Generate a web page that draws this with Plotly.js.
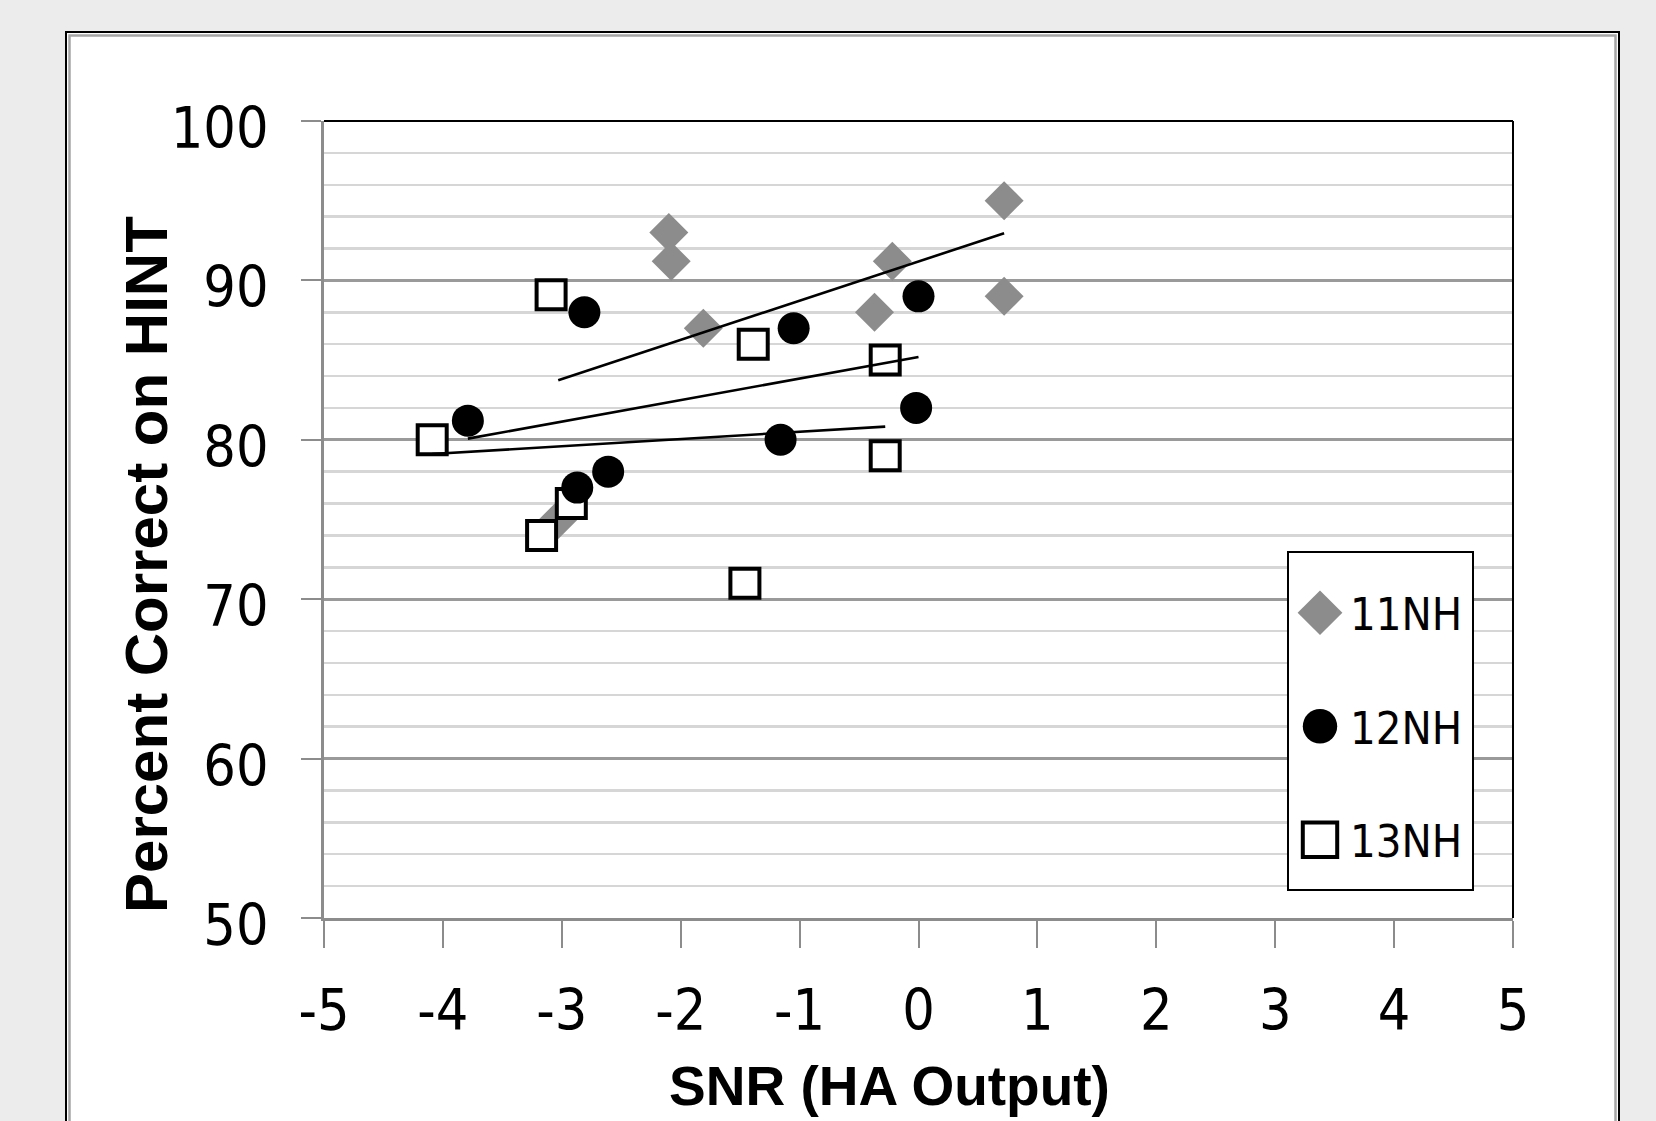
<!DOCTYPE html>
<html><head><meta charset="utf-8">
<script src="https://cdn.plot.ly/plotly-3.0.1.min.js"></script>
<style>html,body{margin:0;padding:0;background:#ececec;} #chart{width:1656px;height:1121px;}</style>
</head><body><div id="chart"></div>
<script>
// ---- data ----
const seriesNames = ['11NH', '12NH', '13NH'];
const snr11 = [-2.10, -2.08, -1.81, -0.37, -0.22, 0.72, 0.72, -3.03];
const pct11 = [93.0, 91.2, 87.0, 88.0, 91.2, 95.0, 89.0, 75.0];
const snr12 = [-3.79, -2.81, -2.87, -2.61, -1.05, -1.16, 0.00, -0.02];
const pct12 = [81.2, 88.0, 77.0, 78.0, 87.0, 80.0, 89.0, 82.0];
const snr13 = [-4.09, -3.09, -3.17, -2.92, -1.39, -1.46, -0.28, -0.28];
const pct13 = [80.0, 89.1, 74.0, 76.0, 86.0, 71.0, 85.0, 79.0];
const xTickVals = [-5, -4, -3, -2, -1, 0, 1, 2, 3, 4, 5];
const yTickVals = [50, 60, 70, 80, 90, 100];
const xTitle = 'SNR (HA Output)';
const yTitle = 'Percent Correct on HINT';

// ---- geometry ----
const W = 1656, H = 1121;
const M = {l: 324, r: 143, t: 121, b: 203};
const PW = W - M.l - M.r, PH = H - M.t - M.b;
const px = v => (v - M.l) / PW;       // pixel x -> paper
const py = v => (H - M.b - v) / PH;   // pixel y -> paper

const NARROW = '"DejaVu Sans Condensed", "Liberation Sans Narrow", "Liberation Sans", sans-serif';
const BOLD = '"Liberation Sans", Arial, sans-serif';

// least-squares trend line over each series' x-range
function trend(xs, ys) {
  const n = xs.length;
  const mx = xs.reduce((a, b) => a + b, 0) / n;
  const my = ys.reduce((a, b) => a + b, 0) / n;
  let sxy = 0, sxx = 0;
  for (let i = 0; i < n; i++) { sxy += (xs[i] - mx) * (ys[i] - my); sxx += (xs[i] - mx) ** 2; }
  const k = sxy / sxx, c = my - k * mx;
  const x0 = Math.min(...xs), x1 = Math.max(...xs);
  return {x: [x0, x1], y: [k * x0 + c, k * x1 + c]};
}

const traces = [
  {x: snr11, y: pct11, name: seriesNames[0], mode: 'markers', type: 'scatter', legendgroup: 'g1', legendrank: 1,
   marker: {symbol: 'diamond', size: 30, color: '#8c8c8c', line: {width: 0}}},
  {x: snr13, y: pct13, name: seriesNames[2], mode: 'markers', type: 'scatter', legendgroup: 'g3', legendrank: 3,
   marker: {symbol: 'square', size: 29, color: '#ffffff', line: {width: 4, color: '#000000'}}},
  {x: snr12, y: pct12, name: seriesNames[1], mode: 'markers', type: 'scatter', legendgroup: 'g2', legendrank: 2,
   marker: {symbol: 'circle', size: 32, color: '#000000', line: {width: 0}}},
];
[[snr11, pct11], [snr12, pct12], [snr13, pct13]].forEach(([xs, ys]) => {
  const t = trend(xs, ys);
  traces.push({x: t.x, y: t.y, mode: 'lines', type: 'scatter', showlegend: false, hoverinfo: 'skip',
    line: {color: '#000000', width: 2.6}});
});

const shapes = [
  // outer white frame with double border
  {type: 'rect', xref: 'paper', yref: 'paper', layer: 'below',
   x0: px(66), x1: px(1619), y0: py(1180), y1: py(32),
   fillcolor: '#ffffff', line: {color: '#000000', width: 2}},
  {type: 'rect', xref: 'paper', yref: 'paper', layer: 'below',
   x0: px(69.5), x1: px(1615.5), y0: py(1180), y1: py(35.5),
   fillcolor: 'rgba(0,0,0,0)', line: {color: '#a6a6a6', width: 2.5}},
  // plot-area top and right border
  {type: 'line', xref: 'paper', yref: 'paper', x0: 0, x1: 1, y0: 1, y1: 1, line: {color: '#000000', width: 2}},
  {type: 'line', xref: 'paper', yref: 'paper', x0: 1, x1: 1, y0: 0, y1: 1, line: {color: '#000000', width: 2}},
  // legend box
  {type: 'rect', xref: 'paper', yref: 'paper', layer: 'above',
   x0: px(1288), x1: px(1473), y0: py(890), y1: py(552),
   fillcolor: '#ffffff', line: {color: '#000000', width: 2}},
];

const annotations = [
  {text: '<b>' + yTitle + '</b>', xref: 'paper', yref: 'paper', x: px(146), y: py(565),
   xanchor: 'center', yanchor: 'middle', textangle: -90, showarrow: false,
   font: {family: BOLD, size: 60, color: '#000000'}},
  {text: '<b>' + xTitle + '</b>', xref: 'paper', yref: 'paper', x: px(889), y: py(1086),
   xanchor: 'center', yanchor: 'middle', showarrow: false,
   font: {family: BOLD, size: 55, color: '#000000'}},
];

const layout = {
  width: W, height: H,
  margin: M,
  paper_bgcolor: '#ececec',
  plot_bgcolor: '#ffffff',
  font: {family: NARROW, color: '#000000'},
  showlegend: true,
  legend: {
    x: px(1290), xanchor: 'left', y: py(577), yanchor: 'top',
    bgcolor: 'rgba(0,0,0,0)', borderwidth: 0,
    font: {family: NARROW, size: 45, color: '#000000'},
    itemwidth: 50,
    traceorder: 'grouped', tracegroupgap: 52,
  },
  xaxis: {
    range: [-5, 5], tickvals: xTickVals, ticktext: xTickVals.map(String),
    showgrid: false, zeroline: false,
    showline: true, linecolor: '#8c8c8c', linewidth: 3,
    ticks: 'outside', ticklen: 27, tickwidth: 2, tickcolor: '#8c8c8c',
    ticklabelstandoff: 14,
    tickfont: {family: NARROW, size: 57, color: '#000000'},
  },
  yaxis: {
    range: [50, 100], tickvals: yTickVals, ticktext: yTickVals.map(String),
    showgrid: true, gridcolor: '#9a9a9a', gridwidth: 3,
    minor: {dtick: 2, showgrid: true, gridcolor: '#d6d6d6', gridwidth: 2.5, ticks: ''},
    zeroline: false,
    showline: true, linecolor: '#8c8c8c', linewidth: 3,
    ticks: 'outside', ticklen: 20, tickwidth: 2, tickcolor: '#8c8c8c',
    ticklabelstandoff: 21, ticklabelshift: 7,
    tickfont: {family: NARROW, size: 57, color: '#000000'},
  },
  shapes: shapes,
  annotations: annotations,
};

Plotly.newPlot('chart', traces, layout, {staticPlot: true, displayModeBar: false}).then(gd => {
  // enlarge legend symbols (the legend caps marker size at 16px)
  gd.querySelectorAll('.legend .legendpoints path.scatterpts').forEach(p => {
    p.setAttribute('transform', (p.getAttribute('transform') || '') + ' scale(2.15)');
    p.style.vectorEffect = 'non-scaling-stroke';
  });
});
</script>
</body></html>
